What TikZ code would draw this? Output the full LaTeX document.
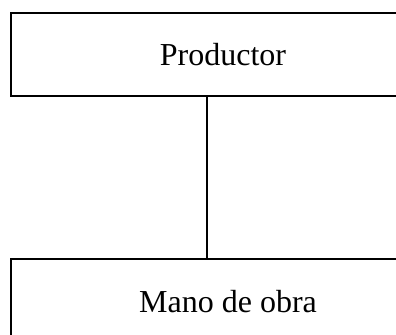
\documentclass[tikz,border=0pt]{standalone}
\usepackage{fontspec}
\setmainfont{Liberation Serif}
\begin{document}
\begin{tikzpicture}[x=0.5pt, y=-0.5pt, line width=0.6pt,
    caja/.style={draw, rectangle, inner sep=0pt, font=\fontsize{16}{18}\selectfont}]
  \useasboundingbox (0,0) rectangle (396,335);
  \clip (0,0) rectangle (396,335);
  \node[caja, minimum width=424*0.5pt, minimum height=83*0.5pt] (productor) at (223,54.5) {Productor};
  \node[caja, minimum width=434*0.5pt, minimum height=86*0.5pt] (mano) at (228,302) {Mano de obra};

  \coordinate (enlace) at (207,0);
  \draw (enlace |- productor.south) -- (enlace |- mano.north);
\end{tikzpicture}
\end{document}
